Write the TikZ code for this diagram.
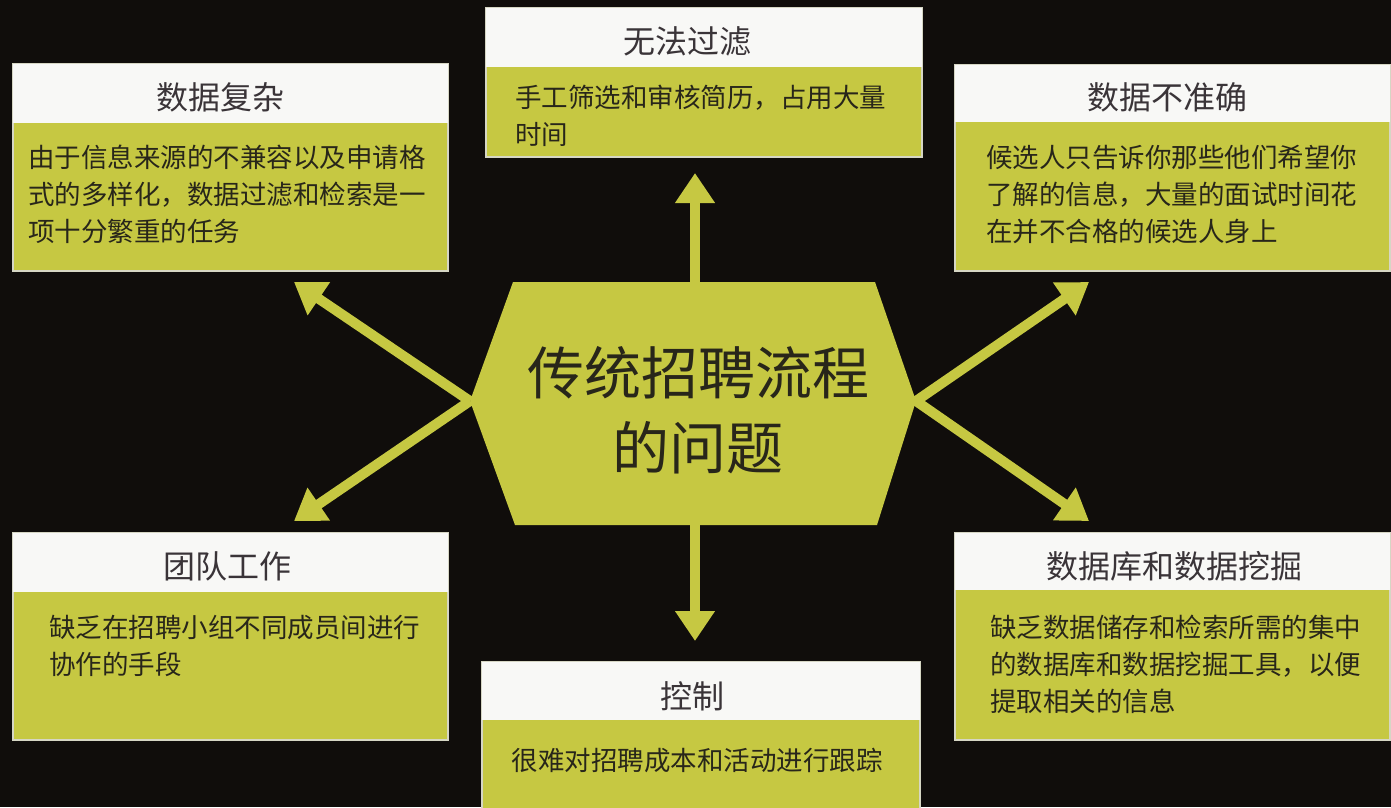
\documentclass[tikz,border=0pt]{standalone}
\usepackage{fontspec}
\setmainfont{Noto Sans CJK SC}
\usetikzlibrary{arrows.meta}
\definecolor{bg}{RGB}{16,13,11}
\definecolor{lime}{RGB}{198,200,66}
\definecolor{hdr}{RGB}{248,248,246}
\definecolor{ink}{RGB}{40,38,26}
\definecolor{tink}{RGB}{58,52,56}
\definecolor{edge}{RGB}{214,214,196}
\tikzset{
  panel/.style={fill=lime, draw=edge, line width=1.2pt, inner sep=0pt, outer sep=0pt, anchor=north west},
  head/.style={fill=hdr, inner sep=0pt, outer sep=0pt, anchor=north west},
  ttl/.style={text=tink, font=\fontsize{32}{36}\selectfont, inner sep=0pt},
  txt/.style={text=ink, font=\fontsize{26.5}{37}\selectfont, inner sep=0pt, align=left, anchor=north west},
  hubtxt/.style={text=ink, font=\fontsize{57}{75}\selectfont, inner sep=0pt, align=center},
  arr/.style={draw=lime, line width=10pt, -{Triangle[width=38pt,length=30pt]}},
}
\begin{document}
\begin{tikzpicture}[x=1pt,y=-1pt]
\fill[bg] (0,0) rectangle (1391,807);
\useasboundingbox (0,0) rectangle (1391,807);

% arrow end coordinates
\coordinate (hexL) at (470,401);
\coordinate (hexR) at (916,401);
\coordinate (hexT) at (695,283);
\coordinate (hexB) at (695,524);
\coordinate (tipT) at (695,173);
\coordinate (tipB) at (695,641);
\coordinate (tipUL) at (294,282);
\coordinate (tipLL) at (294,521);
\coordinate (tipUR) at (1089,282);
\coordinate (tipLR) at (1089,521);

\draw[arr] (hexT) -- (tipT);
\draw[arr] (hexB) -- (tipB);
\draw[arr] (hexL) -- (tipUL);
\draw[arr] (hexL) -- (tipLL);
\draw[arr] (hexR) -- (tipUR);
\draw[arr] (hexR) -- (tipLR);

% central hexagon
\fill[lime] (hexL) -- (513,282) -- (875,282) -- (hexR) -- (877,525) -- (515,525) -- cycle;
\node[hubtxt] (hub) at (698,410) {传统招聘流程\\的问题};

% box 1: 数据复杂
\node[panel, minimum width=435pt, minimum height=207pt] (p1) at (13,64) {};
\node[head, minimum width=435pt, minimum height=59pt] (h1) at (13,64) {};
\node[ttl] (t1) at (220,97) {数据复杂};
\node[txt] (b1) at (28,145) {由于信息来源的不兼容以及申请格\\式的多样化，数据过滤和检索是一\\项十分繁重的任务};

% box 2: 无法过滤
\node[panel, minimum width=436pt, minimum height=149pt] (p2) at (486,8) {};
\node[head, minimum width=436pt, minimum height=59pt] (h2) at (486,8) {};
\node[ttl] (t2) at (687,41) {无法过滤};
\node[txt] (b2) at (515,85) {手工筛选和审核简历，占用大量\\时间};

% box 3: 数据不准确
\node[panel, minimum width=435pt, minimum height=206pt] (p3) at (955,65) {};
\node[head, minimum width=435pt, minimum height=57pt] (h3) at (955,65) {};
\node[ttl] (t3) at (1167,97) {数据不准确};
\node[txt] (b3) at (986,145) {候选人只告诉你那些他们希望你\\了解的信息，大量的面试时间花\\在并不合格的候选人身上};

% box 4: 团队工作
\node[panel, minimum width=435pt, minimum height=207pt] (p4) at (13,533) {};
\node[head, minimum width=435pt, minimum height=59pt] (h4) at (13,533) {};
\node[ttl] (t4) at (227,566) {团队工作};
\node[txt] (b4) at (49,615) {缺乏在招聘小组不同成员间进行\\协作的手段};

% box 5: 控制
\node[panel, minimum width=438pt, minimum height=160pt] (p5) at (482,662) {};
\node[head, minimum width=438pt, minimum height=58pt] (h5) at (482,662) {};
\node[ttl] (t5) at (692,696) {控制};
\node[txt, anchor=center] (b5) at (697,760) {很难对招聘成本和活动进行跟踪};

% box 6: 数据库和数据挖掘
\node[panel, minimum width=435pt, minimum height=207pt] (p6) at (955,533) {};
\node[head, minimum width=435pt, minimum height=57pt] (h6) at (955,533) {};
\node[ttl] (t6) at (1174,566) {数据库和数据挖掘};
\node[txt] (b6) at (990,615) {缺乏数据储存和检索所需的集中\\的数据库和数据挖掘工具，以便\\提取相关的信息};
\end{tikzpicture}
\end{document}
